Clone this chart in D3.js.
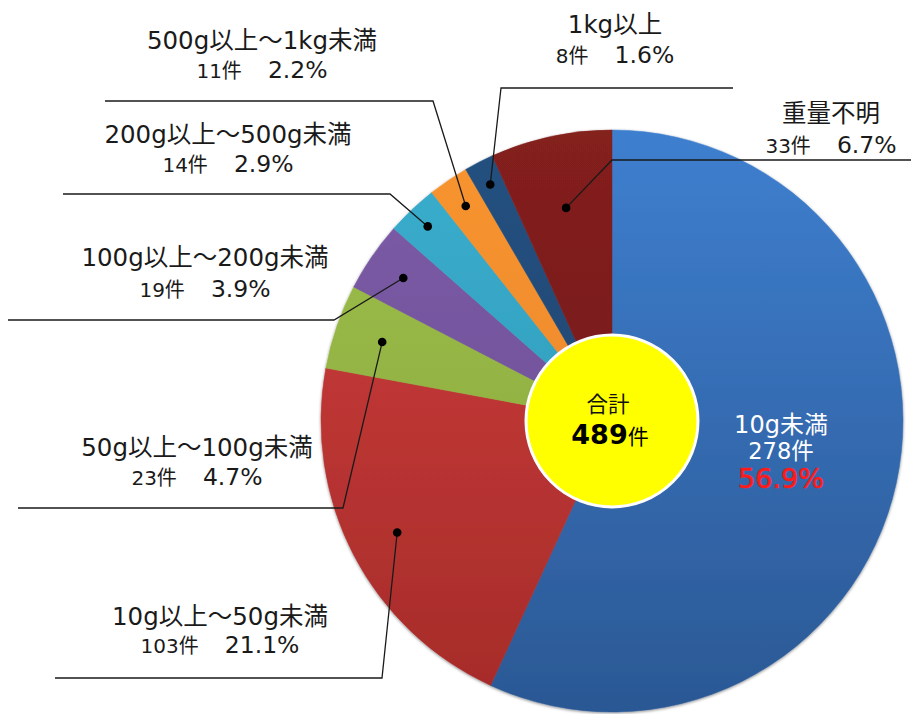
<!DOCTYPE html>
<html>
<head>
<meta charset="utf-8">
<script src="https://cdn.jsdelivr.net/npm/d3@7"></script>
<style>
html,body{margin:0;padding:0;background:#fff;}
svg{display:block;}
text{font-family:"DejaVu Sans","Noto Sans CJK JP",sans-serif;}
</style>
</head>
<body>
<svg id="chart" width="911" height="714"></svg>
<script>
// ---- data ----
const categories = ["10g未満","10g以上～50g未満","50g以上～100g未満","100g以上～200g未満","200g以上～500g未満","500g以上～1kg未満","1kg以上","重量不明"];
const counts = [278,103,23,19,14,11,8,33];
const percents = ["56.9%","21.1%","4.7%","3.9%","2.9%","2.2%","1.6%","6.7%"];
const totalLabel = "合計";
const totalCount = 489;

// ---- styles / layout ----
const colorsTop = ["#3e7fcf","#d13f3d","#9ec04b","#7e5da8","#3aaece","#f8952f","#24517f","#84201e"];
const colorsBot = ["#2b5894","#a52b29","#86a53a","#674a8f","#2e94b2","#e5802a","#1c406d","#6c1717"];
const cx = 612, cy = 421, R = 291;
// per-slice: dot radius, elbow point, line end x, text x, baselines
const layout = [
  null,
  {dr:242, ex:382, ey:678, endx:55,  tx:220, b1:625, b2:653},
  {dr:243, ex:343, ey:508, endx:18,  tx:197, b1:456, b2:485},
  {dr:253, ex:334, ey:320, endx:8,   tx:205, b1:266, b2:297},
  {dr:268, ex:390, ey:194, endx:63,  tx:228, b1:143, b2:172},
  {dr:260, ex:433, ey:101, endx:105, tx:262, b1:49,  b2:78},
  {dr:266, ex:501, ey:88,  endx:733, tx:615, b1:33,  b2:63},
  {dr:218, ex:612, ey:160, endx:911, tx:831, b1:122, b2:153}
];

const svg = d3.select("#chart");
const defs = svg.append("defs");
colorsTop.forEach((c,i)=>{
  const g = defs.append("linearGradient").attr("id","g"+i)
    .attr("gradientUnits","userSpaceOnUse")
    .attr("x1",0).attr("y1",-R).attr("x2",0).attr("y2",R);
  g.append("stop").attr("offset","0%").attr("stop-color",c);
  g.append("stop").attr("offset","100%").attr("stop-color",colorsBot[i]);
});
const f = defs.append("filter").attr("id","sh").attr("x","-10%").attr("y","-10%").attr("width","120%").attr("height","120%");
f.append("feDropShadow").attr("dx",0).attr("dy",1).attr("stdDeviation",1.5).attr("flood-color","#000").attr("flood-opacity",0.45);

const pie = d3.pie().sort(null).value(d=>d);
const arcs = pie(counts);
const arc = d3.arc().innerRadius(0).outerRadius(R);

const g = svg.append("g").attr("transform",`translate(${cx},${cy})`);
g.append("g").attr("filter","url(#sh)").selectAll("path").data(arcs).join("path")
  .attr("d",arc).attr("fill",(d,i)=>`url(#g${i})`)
  .attr("stroke",(d,i)=>`url(#g${i})`).attr("stroke-width",0.5);

// leader lines and dots
arcs.forEach((d,i)=>{
  const L = layout[i];
  if(!L) return;
  const a = d3.arc().innerRadius(L.dr).outerRadius(L.dr);
  const [px,py] = a.centroid(d);
  const x0 = px+cx, y0 = py+cy;
  svg.append("path")
    .attr("d",`M${x0},${y0}L${L.ex},${L.ey}L${L.endx},${L.ey}`)
    .attr("fill","none").attr("stroke","#1a1a1a").attr("stroke-width",1.3);
  svg.append("circle").attr("cx",x0).attr("cy",y0).attr("r",4.3).attr("fill","#000");
  svg.append("text").attr("x",L.tx).attr("y",L.b1).attr("text-anchor","middle")
    .attr("font-size",24.5).attr("fill","#1a1a1a").text(categories[i]);
  const t2 = svg.append("text").attr("x",L.tx).attr("y",L.b2).attr("text-anchor","middle").attr("fill","#1a1a1a");
  t2.append("tspan").attr("font-size",20).text(counts[i]+"件");
  t2.append("tspan").attr("font-size",23.5).attr("dx",26).text(percents[i]);
});

// inside label for largest slice
svg.append("text").attr("x",781).attr("y",433).attr("text-anchor","middle")
  .attr("font-size",24).attr("fill","#fff").text(categories[0]);
svg.append("text").attr("x",781).attr("y",459).attr("text-anchor","middle")
  .attr("font-size",22.5).attr("fill","#fff").text(counts[0]+"件");
svg.append("text").attr("x",781).attr("y",488).attr("text-anchor","middle")
  .attr("font-size",27).attr("fill","#ff1a1a").attr("stroke","#ff1a1a").attr("stroke-width",0.6).text(percents[0]);

// center total
svg.append("circle").attr("cx",cx).attr("cy",cy).attr("r",86)
  .attr("fill","#ffff00").attr("stroke","#fff").attr("stroke-width",3);
svg.append("text").attr("x",608).attr("y",412).attr("text-anchor","middle")
  .attr("font-size",21.5).attr("fill","#111").text(totalLabel);
const tt = svg.append("text").attr("x",610).attr("y",444).attr("text-anchor","middle").attr("fill","#000");
tt.append("tspan").attr("font-size",27).attr("font-weight","bold").text(totalCount);
tt.append("tspan").attr("font-size",21).text("件");
</script>
</body>
</html>
